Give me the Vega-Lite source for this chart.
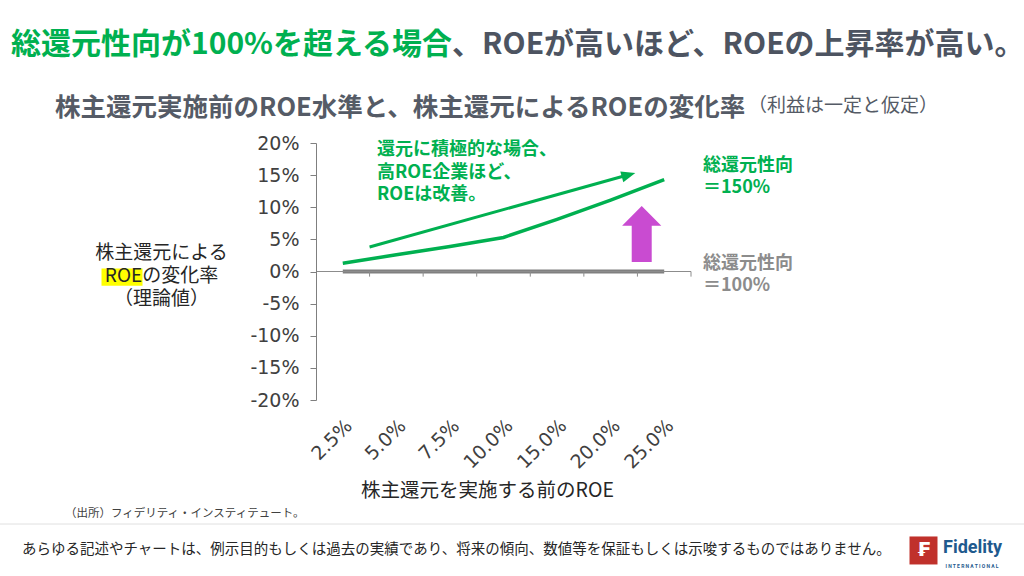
{
  "$schema": "https://vega.github.io/schema/vega-lite/v6.json",
  "width": 375,
  "height": 257,
  "autosize": {"type": "none"},
  "padding": {"left": 316, "top": 143, "right": 333, "bottom": 176},
  "background": "white",
  "config": {"view": {"stroke": null}, "font": "Noto Sans CJK JP"},
  "data": {
    "values": [
      {"roe": "2.5%", "payout": "100%", "change": 0},
      {"roe": "5.0%", "payout": "100%", "change": 0},
      {"roe": "7.5%", "payout": "100%", "change": 0},
      {"roe": "10.0%", "payout": "100%", "change": 0},
      {"roe": "15.0%", "payout": "100%", "change": 0},
      {"roe": "20.0%", "payout": "100%", "change": 0},
      {"roe": "25.0%", "payout": "100%", "change": 0},
      {"roe": "2.5%", "payout": "150%", "change": 1.3},
      {"roe": "5.0%", "payout": "150%", "change": 2.6},
      {"roe": "7.5%", "payout": "150%", "change": 3.9},
      {"roe": "10.0%", "payout": "150%", "change": 5.3},
      {"roe": "15.0%", "payout": "150%", "change": 8.1},
      {"roe": "20.0%", "payout": "150%", "change": 11.1},
      {"roe": "25.0%", "payout": "150%", "change": 14.3}
    ]
  },
  "layer": [
    {
      "transform": [{"filter": "datum.payout === '100%'"}],
      "mark": {"type": "line", "color": "#808080", "strokeWidth": 4},
      "encoding": {
        "x": {
          "field": "roe",
          "type": "nominal",
          "bandPosition": 0.5,
          "scale": {"type": "band", "domain": ["2.5%", "5.0%", "7.5%", "10.0%", "15.0%", "20.0%", "25.0%"], "paddingInner": 0, "paddingOuter": 0},
          "axis": {
            "orient": "bottom",
            "domain": false,
            "ticks": false,
            "labelAngle": -45,
            "labelFont": "DejaVu Sans",
            "labelFontSize": 19,
            "labelColor": "#404040",
            "labelPadding": 16,
            "labelOverlap": false,
            "title": "株主還元を実施する前のROE",
            "titleX": 171,
            "titleY": 90,
            "titleAlign": "center",
            "titleBaseline": "middle",
            "titleFontSize": 19.5,
            "titleFontWeight": "normal",
            "titleColor": "#262626"
          }
        },
        "y": {
          "field": "change",
          "type": "quantitative",
          "scale": {"domain": [-20, 20], "nice": false, "zero": false},
          "axis": {
            "values": [-20, -15, -10, -5, 0, 5, 10, 15, 20],
            "tickCount": 9,
            "labelExpr": "datum.value + '%'",
            "labelOverlap": false,
            "grid": false,
            "domainColor": "#7f7f7f",
            "tickColor": "#7f7f7f",
            "tickSize": 6,
            "labelFont": "DejaVu Sans",
            "labelFontSize": 19,
            "labelColor": "#404040",
            "labelPadding": 11,
            "title": ["株主還元による", "ROEの変化率", "（理論値）"],
            "titleAngle": 0,
            "titleAlign": "center",
            "titleBaseline": "top",
            "titleX": -155,
            "titleY": 100,
            "titleFontSize": 19,
            "titleFontWeight": "normal",
            "titleColor": "#262626",
            "titleLineHeight": 23,
            "zindex": 1
          }
        }
      }
    },
    {
      "data": {"values": [{}]},
      "mark": {"type": "rule", "color": "#8c8c8c", "strokeWidth": 1},
      "encoding": {"y": {"datum": 0, "type": "quantitative"}}
    },
    {
      "transform": [{"filter": "datum.payout === '100%'"}],
      "mark": {"type": "rule", "color": "#8c8c8c", "strokeWidth": 1},
      "encoding": {
        "x": {"field": "roe", "type": "nominal", "bandPosition": 1},
        "y": {"datum": 0, "type": "quantitative"},
        "y2": {"datum": -0.8}
      }
    },
    {
      "transform": [{"filter": "datum.payout === '150%'"}],
      "mark": {"type": "line", "color": "#00B050", "strokeWidth": 3.5},
      "encoding": {
        "x": {"field": "roe", "type": "nominal", "bandPosition": 0.5},
        "y": {"field": "change", "type": "quantitative"}
      }
    },
    {
      "data": {"values": [{}]},
      "mark": {"type": "rule", "color": "#00B050", "strokeWidth": 3},
      "encoding": {
        "x": {"datum": "5.0%", "bandPosition": 0},
        "x2": {"datum": "20.0%", "bandPosition": 0.85},
        "y": {"datum": 3.81, "type": "quantitative"},
        "y2": {"datum": 15.1}
      }
    },
    {
      "data": {"values": [{}]},
      "mark": {"type": "point", "shape": "M 0 0 L -2 -0.8 L -2 0.8 Z", "filled": true, "opacity": 1, "color": "#00B050", "size": 196, "angle": 344.4},
      "encoding": {
        "x": {"datum": "20.0%", "bandPosition": 0.96},
        "y": {"datum": 15.33, "type": "quantitative"}
      }
    },
    {
      "data": {"values": [{}]},
      "mark": {"type": "point", "shape": "M -0.357 1 L 0.357 1 L 0.357 -0.29 L 0.7 -0.29 L 0 -1 L -0.7 -0.29 L -0.357 -0.29 Z", "filled": true, "opacity": 1, "color": "#C94BD1", "size": 3136},
      "encoding": {
        "x": {"datum": "25.0%", "bandPosition": 0.08},
        "y": {"datum": 5.84, "type": "quantitative"}
      }
    },
    {
      "data": {"values": [{}]},
      "mark": {"type": "point", "shape": "M -1 -0.42 L 1 -0.42 L 1 0.42 L -1 0.42 Z", "filled": true, "opacity": 1, "color": "#FFFF00", "size": 1681, "xOffset": -194},
      "encoding": {
        "x": {"datum": "2.5%", "bandPosition": 0},
        "y": {"datum": -0.86, "type": "quantitative"}
      }
    },
    {
      "data": {"values": [{}]},
      "mark": {"type": "text", "text": ["還元に積極的な場合、", "高ROE企業ほど、", "ROEは改善。"], "align": "left", "baseline": "top", "fontSize": 18, "lineHeight": 22.5, "color": "#00B050", "fontWeight": "bold"},
      "encoding": {
        "x": {"datum": "5.0%", "bandPosition": 0.14},
        "y": {"datum": 20.3, "type": "quantitative"}
      }
    },
    {
      "data": {"values": [{}]},
      "mark": {"type": "text", "text": ["総還元性向", "＝150%"], "align": "left", "baseline": "top", "fontSize": 18, "lineHeight": 22, "color": "#00B050", "fontWeight": "bold", "dx": 12},
      "encoding": {
        "x": {"datum": "25.0%", "bandPosition": 1},
        "y": {"datum": 17.8, "type": "quantitative"}
      }
    },
    {
      "data": {"values": [{}]},
      "mark": {"type": "text", "text": ["総還元性向", "＝100%"], "align": "left", "baseline": "top", "fontSize": 18, "lineHeight": 22, "color": "#8c8c8c", "fontWeight": "bold", "dx": 12},
      "encoding": {
        "x": {"datum": "25.0%", "bandPosition": 1},
        "y": {"datum": 2.57, "type": "quantitative"}
      }
    },
    {
      "data": {"values": [{}]},
      "mark": {"type": "text", "text": "総還元性向が100%を超える場合", "align": "right", "baseline": "middle", "fontSize": 30, "color": "#00B050", "fontWeight": "bold"},
      "encoding": {
        "x": {"datum": "7.5%", "bandPosition": 0.54},
        "y": {"datum": 35.25, "type": "quantitative"}
      }
    },
    {
      "data": {"values": [{}]},
      "mark": {"type": "text", "text": "、ROEが高いほど、ROEの上昇率が高い。", "align": "left", "baseline": "middle", "fontSize": 30, "color": "#4D5461", "fontWeight": "bold"},
      "encoding": {
        "x": {"datum": "7.5%", "bandPosition": 0.54},
        "y": {"datum": 35.25, "type": "quantitative"}
      }
    },
    {
      "data": {"values": [{}]},
      "mark": {"type": "text", "text": "株主還元実施前のROE水準と、株主還元によるROEの変化率", "align": "left", "baseline": "middle", "fontSize": 25.5, "color": "#555B66", "fontWeight": "bold", "dx": -261},
      "encoding": {
        "x": {"datum": "2.5%", "bandPosition": 0},
        "y": {"datum": 25.45, "type": "quantitative"}
      }
    },
    {
      "data": {"values": [{}]},
      "mark": {"type": "text", "text": "（利益は一定と仮定）", "align": "left", "baseline": "middle", "fontSize": 19, "color": "#555B66", "dx": 57},
      "encoding": {
        "x": {"datum": "25.0%", "bandPosition": 1},
        "y": {"datum": 25.76, "type": "quantitative"}
      }
    },
    {
      "data": {"values": [{}]},
      "mark": {"type": "text", "text": "（出所）フィデリティ・インスティテュート。", "align": "left", "baseline": "middle", "fontSize": 11.5, "color": "#404040", "dx": -251},
      "encoding": {
        "x": {"datum": "2.5%", "bandPosition": 0},
        "y": {"datum": -37.74, "type": "quantitative"}
      }
    },
    {
      "data": {"values": [{}]},
      "mark": {"type": "rule", "color": "#e0e0e0", "strokeWidth": 1, "xOffset": -316, "x2Offset": 333},
      "encoding": {
        "x": {"datum": "2.5%", "bandPosition": 0},
        "x2": {"datum": "25.0%", "bandPosition": 1},
        "y": {"datum": -39.3, "type": "quantitative"}
      }
    },
    {
      "data": {"values": [{}]},
      "mark": {"type": "text", "text": "あらゆる記述やチャートは、例示目的もしくは過去の実績であり、将来の傾向、数値等を保証もしくは示唆するものではありません。", "align": "left", "baseline": "middle", "fontSize": 14.5, "color": "#262626", "dx": -294},
      "encoding": {
        "x": {"datum": "2.5%", "bandPosition": 0},
        "y": {"datum": -43.35, "type": "quantitative"}
      }
    },
    {
      "data": {"values": [{}]},
      "mark": {"type": "point", "shape": "square", "filled": true, "opacity": 1, "color": "#C0312B", "size": 784, "xOffset": 232.5},
      "encoding": {
        "x": {"datum": "25.0%", "bandPosition": 1},
        "y": {"datum": -43.42, "type": "quantitative"}
      }
    },
    {
      "data": {"values": [{}]},
      "mark": {"type": "text", "text": "₣", "align": "center", "baseline": "middle", "fontSize": 20, "font": "DejaVu Sans", "fontWeight": "bold", "color": "white", "dx": 232.5},
      "encoding": {
        "x": {"datum": "25.0%", "bandPosition": 1},
        "y": {"datum": -43.42, "type": "quantitative"}
      }
    },
    {
      "data": {"values": [{}]},
      "mark": {"type": "text", "text": "Fidelity", "align": "left", "baseline": "middle", "fontSize": 18, "font": "Roboto", "fontWeight": "bold", "color": "#1F5A8E", "dx": 252},
      "encoding": {
        "x": {"datum": "25.0%", "bandPosition": 1},
        "y": {"datum": -43.04, "type": "quantitative"}
      }
    },
    {
      "data": {"values": [{}]},
      "mark": {"type": "text", "text": "I N T E R N A T I O N A L", "align": "center", "baseline": "middle", "fontSize": 5, "font": "Roboto", "fontWeight": "bold", "color": "#1F5A8E", "dx": 281},
      "encoding": {
        "x": {"datum": "25.0%", "bandPosition": 1},
        "y": {"datum": -45.84, "type": "quantitative"}
      }
    }
  ]
}
